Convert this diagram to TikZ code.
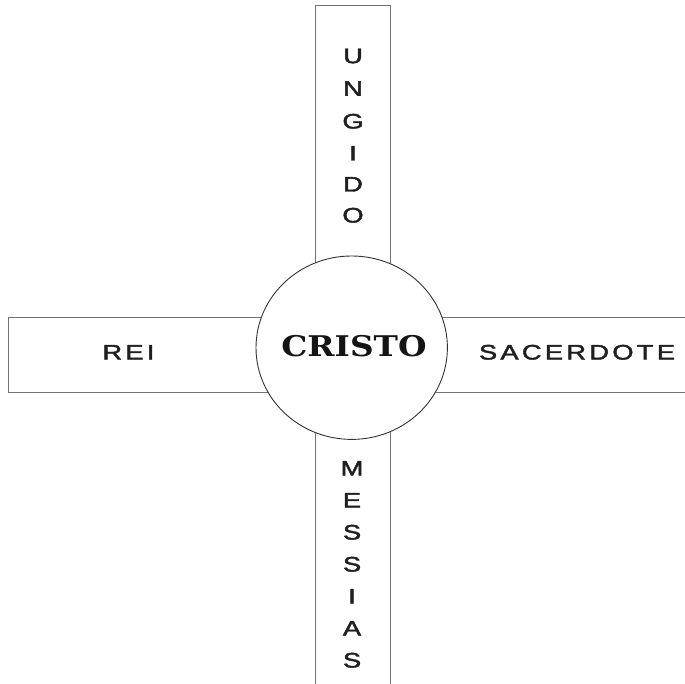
\documentclass[tikz,border=0pt]{standalone}
\usepackage{fontspec}
\setmainfont{Liberation Sans}
\newfontfamily\hand[LetterSpace=12,FakeBold=1.8]{Liberation Sans}
\newfontfamily\titlefont{DejaVu Serif}
\usetikzlibrary{shapes.geometric}
\tikzset{
  barline/.style={draw=black!55, line width=1pt},
  ring/.style={draw=black!80, line width=0.9pt, fill=white},
  letter/.style={font=\hand\fontsize{21}{21}\selectfont, xscale=1.3, inner sep=0pt, anchor=base, text=black!88},
  word/.style={font=\hand\fontsize{21}{21}\selectfont, xscale=1.3, inner sep=0pt, anchor=base, text=black!88},
}
\begin{document}
\begin{tikzpicture}[x=1pt,y=-1pt]
\useasboundingbox (0,0) rectangle (685,684);
% vertical bar (open at bottom)
\coordinate (vb1) at (315,690);
\coordinate (vt1) at (315,6);
\coordinate (vt2) at (390,6);
\coordinate (vb2) at (390,690);
\draw[barline] (vb1) -- (vt1) -- (vt2) -- (vb2);
% horizontal bar (open at right)
\coordinate (hr1) at (690,317.7);
\coordinate (hl1) at (8.7,317.7);
\coordinate (hl2) at (8.7,392.7);
\coordinate (hr2) at (690,392.7);
\draw[barline] (hr1) -- (hl1) -- (hl2) -- (hr2);
% central circle
\node[ring, ellipse, minimum width=191.4pt, minimum height=183.4pt, inner sep=0pt] (c) at (351.7,347.7) {};
\node[font=\titlefont\bfseries\fontsize{28.5}{28.5}\selectfont, inner sep=0pt, anchor=base, xscale=1.15, text=black!92] (cristo) at (354,356.7) {CRISTO};
% UNGIDO
\foreach \l/\y [count=\i] in {U/55.7,N/88.3,G/121,I/153,D/184,O/215}
  \node[letter] (u\i) at (353,\y+7.5) {\l};
% MESSIAS
\foreach \l/\y [count=\i] in {M/468,E/500,S/532,S/564,I/596,A/628,S/660}
  \node[letter] (m\i) at (352,\y+7.5) {\l};
% side words
\node[word] (rei) at (128.5,359.5) {REI};
\node[word] (sac) at (577,359.5) {SACERDOTE};
\end{tikzpicture}
\end{document}
